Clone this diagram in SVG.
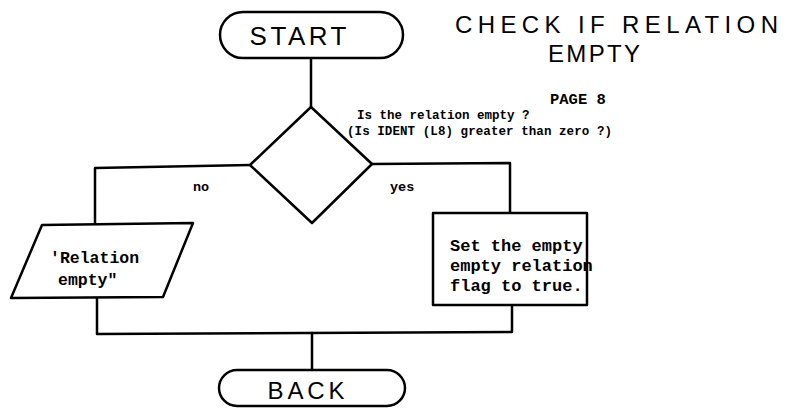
<svg xmlns="http://www.w3.org/2000/svg" width="788" height="411" viewBox="0 0 788 411">
<style>
.ln{fill:none;stroke:#000;stroke-width:2.5;stroke-linejoin:round;stroke-linecap:round}
.sh{fill:#fff;stroke:#000;stroke-width:2.5;stroke-linejoin:round}
.tt{font-family:"Liberation Sans","DejaVu Sans",sans-serif;fill:#000}
.mono{font-family:"Liberation Mono","DejaVu Sans Mono",monospace;font-weight:bold;fill:#000}
</style>
<rect width="788" height="411" fill="#fff"/>
<g id="connectors">
<path class="ln" d="M311,58 V107"/>
<path class="ln" d="M250,165 L95,168 V224"/>
<path class="ln" d="M372,164 L510,163 V213"/>
<path class="ln" d="M97,297 V334 L512,332 V305"/>
<path class="ln" d="M312,333 V370"/>
</g>
<g id="start">
<rect class="sh" x="220" y="12" width="183" height="46" rx="23"/>
<text class="tt" x="298" y="45" font-size="26" text-anchor="middle" textLength="97" lengthAdjust="spacing">START</text>
</g>
<g id="title">
<text class="tt" x="455" y="33" font-size="24" textLength="323" lengthAdjust="spacing">CHECK IF RELATION</text>
<text class="tt" x="548" y="62" font-size="24" textLength="92" lengthAdjust="spacing">EMPTY</text>
<text class="mono" x="550" y="104" font-size="15.5">PAGE 8</text>
</g>
<g id="decision">
<polygon class="sh" points="311,107 372,164 312,223 250,165"/>
<text class="mono" x="357" y="119" font-size="12.5">Is the relation empty ?</text>
<text class="mono" x="347" y="135" font-size="12.5" textLength="265" lengthAdjust="spacing">(Is IDENT (L8) greater than zero ?)</text>
<text class="mono" x="193" y="191" font-size="13.5">no</text>
<text class="mono" x="390" y="191" font-size="13.5">yes</text>
</g>
<g id="output">
<polygon class="sh" points="42,225 193,223 163,297 11,298"/>
<text class="mono" x="50" y="263" font-size="16.5">'Relation</text>
<text class="mono" x="58" y="285" font-size="16.5">empty"</text>
</g>
<g id="process">
<rect class="sh" x="433" y="213" width="154" height="92"/>
<text class="mono" x="450" y="251" font-size="17">Set the empty</text>
<text class="mono" x="450" y="271" font-size="17">empty relation</text>
<text class="mono" x="450" y="291" font-size="17">flag to true.</text>
</g>
<g id="back">
<rect class="sh" x="219" y="370" width="186" height="36" rx="18"/>
<text class="tt" x="306" y="399" font-size="24" text-anchor="middle" textLength="77" lengthAdjust="spacing">BACK</text>
</g>
</svg>
